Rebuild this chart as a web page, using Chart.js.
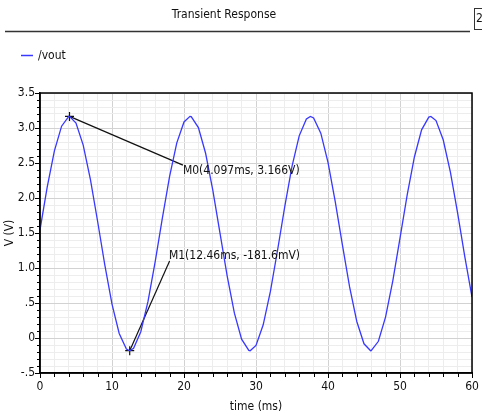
<!DOCTYPE html>
<html>
<head>
<meta charset="utf-8">
<script src="https://cdn.jsdelivr.net/npm/chart.js@4/dist/chart.umd.min.js"></script>
<style>
  html, body { margin: 0; padding: 0; background: #fff; }
  canvas { display: block; }
</style>
</head>
<body>
<canvas id="tranChart" width="482" height="417"></canvas>
<script>
// waveform /vout (time in ms, volts)
const times = [0, 1, 2, 3, 4, 4.097, 5, 6, 7, 8, 9, 10, 11, 12, 12.46, 13, 14, 15, 16, 17, 18, 19, 20, 20.83,
  21, 22, 23, 24, 25, 26, 27, 28, 29, 29.19, 30, 31, 32, 33, 34, 35, 36, 37, 37.56, 38, 39, 40, 41, 42, 43, 44,
  45, 45.92, 46, 47, 48, 49, 50, 51, 52, 53, 54, 54.29, 55, 56, 57, 58, 59, 60];
const vout = [1.546, 2.156, 2.673, 3.026, 3.165, 3.166, 3.071, 2.756, 2.266, 1.668, 1.045, 0.484, 0.064, -0.157, -0.182,
  -0.148, 0.089, 0.522, 1.091, 1.715, 2.308, 2.787, 3.086, 3.166, 3.162, 3.006, 2.639, 2.112, 1.498, 0.884, 0.354,
  -0.017, -0.178, -0.182, -0.106, 0.189, 0.666, 1.257, 1.881, 2.451, 2.888, 3.129, 3.166, 3.143, 2.926, 2.510, 1.951,
  1.329, 0.729, 0.236, -0.083, -0.182, -0.181, -0.047, 0.302, 0.817, 1.426, 2.044, 2.586, 2.974, 3.156, 3.166, 3.106,
  2.832, 2.370, 1.786, 1.161, 0.582];

// markers: point, label anchor and text
const markerNames = ['M0', 'M1'];
const markerX = [4.097, 12.46];
const markerY = [3.166, -0.1816];
const labelX = [19.85, 17.9];
const labelY = [2.39, 1.17];
const leadX = [19.85, 18.0];
const leadY = [2.47, 1.1];
const markerText = ['M0(4.097ms, 3.166V)', 'M1(12.46ms, -181.6mV)'];

// tick labels
const yTickLabels = { '-5': '-.5', '0': '0', '5': '.5', '10': '1.0', '15': '1.5', '20': '2.0', '25': '2.5', '30': '3.0', '35': '3.5' };
const xTickLabels = ['0', '10', '20', '30', '40', '50', '60'];

const FONT = "'DejaVu Sans Condensed', 'Liberation Sans Narrow', 'DejaVu Sans', sans-serif";
const BLUE = '#3838ff';

const isMajorY = v => Math.round(v * 10) % 5 === 0;
const isMajorX = v => Math.round(v) % 10 === 0;

const framePlugin = {
  id: 'frame',
  afterDraw(chart) {
    const ctx = chart.ctx;
    const a = chart.chartArea;
    const xs = chart.scales.x, ys = chart.scales.y;
    ctx.save();

    // header
    ctx.fillStyle = '#111';
    ctx.font = '12px ' + FONT;
    ctx.textAlign = 'center';
    ctx.textBaseline = 'middle';
    ctx.fillText('Transient Response', 224, 15);
    ctx.strokeStyle = '#333';
    ctx.lineWidth = 1.5;
    ctx.beginPath(); ctx.moveTo(5, 31.5); ctx.lineTo(470, 31.5); ctx.stroke();
    ctx.lineWidth = 1;
    ctx.strokeRect(474.5, 8.5, 12, 21);
    ctx.textAlign = 'left';
    ctx.fillText('2', 476, 19);

    // legend
    ctx.strokeStyle = BLUE;
    ctx.lineWidth = 1.5;
    ctx.beginPath(); ctx.moveTo(21, 55.5); ctx.lineTo(33, 55.5); ctx.stroke();
    ctx.fillStyle = '#111';
    ctx.fillText('/vout', 38, 56);

    // frame top / right
    ctx.strokeStyle = '#000';
    ctx.lineWidth = 1.5;
    ctx.strokeRect(a.left, a.top, a.right - a.left, a.bottom - a.top);

    // tick marks
    ctx.lineWidth = 1;
    ys.ticks.forEach(t => {
      const y = Math.round(ys.getPixelForValue(t.value)) + 0.5;
      const len = isMajorY(t.value) ? 5 : 3;
      ctx.beginPath(); ctx.moveTo(a.left - len, y); ctx.lineTo(a.left, y); ctx.stroke();
    });
    xs.ticks.forEach(t => {
      const x = Math.round(xs.getPixelForValue(t.value)) + 0.5;
      const len = isMajorX(t.value) ? 5 : 4;
      ctx.beginPath(); ctx.moveTo(x, a.bottom); ctx.lineTo(x, a.bottom + len); ctx.stroke();
    });

    // marker labels
    ctx.fillStyle = '#111';
    ctx.font = '12px ' + FONT;
    ctx.textAlign = 'left';
    ctx.textBaseline = 'middle';
    markerText.forEach((txt, i) => {
      ctx.fillText(txt, xs.getPixelForValue(labelX[i]), ys.getPixelForValue(labelY[i]));
    });
    ctx.restore();
  }
};

const leadSets = markerNames.map((name, i) => ({
  label: name,
  data: [{ x: markerX[i], y: markerY[i] }, { x: leadX[i], y: leadY[i] }],
  borderColor: '#111',
  borderWidth: 1.2,
  pointRadius: 0,
  showLine: true
}));

new Chart(document.getElementById('tranChart'), {
  type: 'scatter',
  data: {
    datasets: [{
      label: '/vout',
      data: times.map((t, i) => ({ x: t, y: vout[i] })),
      borderColor: BLUE,
      borderWidth: 1.3,
      pointRadius: 0,
      showLine: true,
      tension: 0
    }, ...leadSets, {
      label: 'markers',
      data: markerX.map((x, i) => ({ x: x, y: markerY[i] })),
      pointStyle: 'cross',
      pointRadius: 4.5,
      borderColor: '#111',
      borderWidth: 1.2
    }]
  },
  options: {
    responsive: false,
    animation: false,
    layout: { padding: { top: 93, right: 10, left: 0, bottom: 0 } },
    plugins: { legend: { display: false }, tooltip: { enabled: false } },
    scales: {
      x: {
        type: 'linear', min: 0, max: 60,
        afterFit: s => { s.height = 44; s.paddingLeft = 0; s.paddingRight = 0; },
        ticks: {
          stepSize: 2, autoSkip: false, maxRotation: 0, padding: 7,
          color: '#111', font: { family: FONT, size: 12 },
          callback: v => isMajorX(v) ? xTickLabels[Math.round(v) / 10] : ''
        },
        grid: {
          drawTicks: false,
          color: c => isMajorX(c.tick.value) ? '#d2d2d2' : '#ededed',
          lineWidth: 1
        },
        border: { color: '#000', width: 1.5 },
        title: { display: true, text: 'time (ms)', color: '#111', font: { family: FONT, size: 12 }, padding: { top: 0, bottom: 3 } }
      },
      y: {
        min: -0.5, max: 3.5,
        afterFit: s => { s.width = 40; s.paddingTop = 0; s.paddingBottom = 0; },
        ticks: {
          stepSize: 0.1, autoSkip: false, padding: 5,
          color: '#111', font: { family: FONT, size: 12 },
          callback: v => isMajorY(v) ? yTickLabels[String(Math.round(v * 10))] : ''
        },
        grid: {
          drawTicks: false,
          color: c => isMajorY(c.tick.value) ? '#d2d2d2' : '#ededed',
          lineWidth: 1
        },
        border: { color: '#000', width: 1.5 },
        title: { display: true, text: 'V (V)', color: '#111', font: { family: FONT, size: 12 }, padding: { top: 3, bottom: 0 } }
      }
    }
  },
  plugins: [framePlugin]
});
</script>
</body>
</html>
